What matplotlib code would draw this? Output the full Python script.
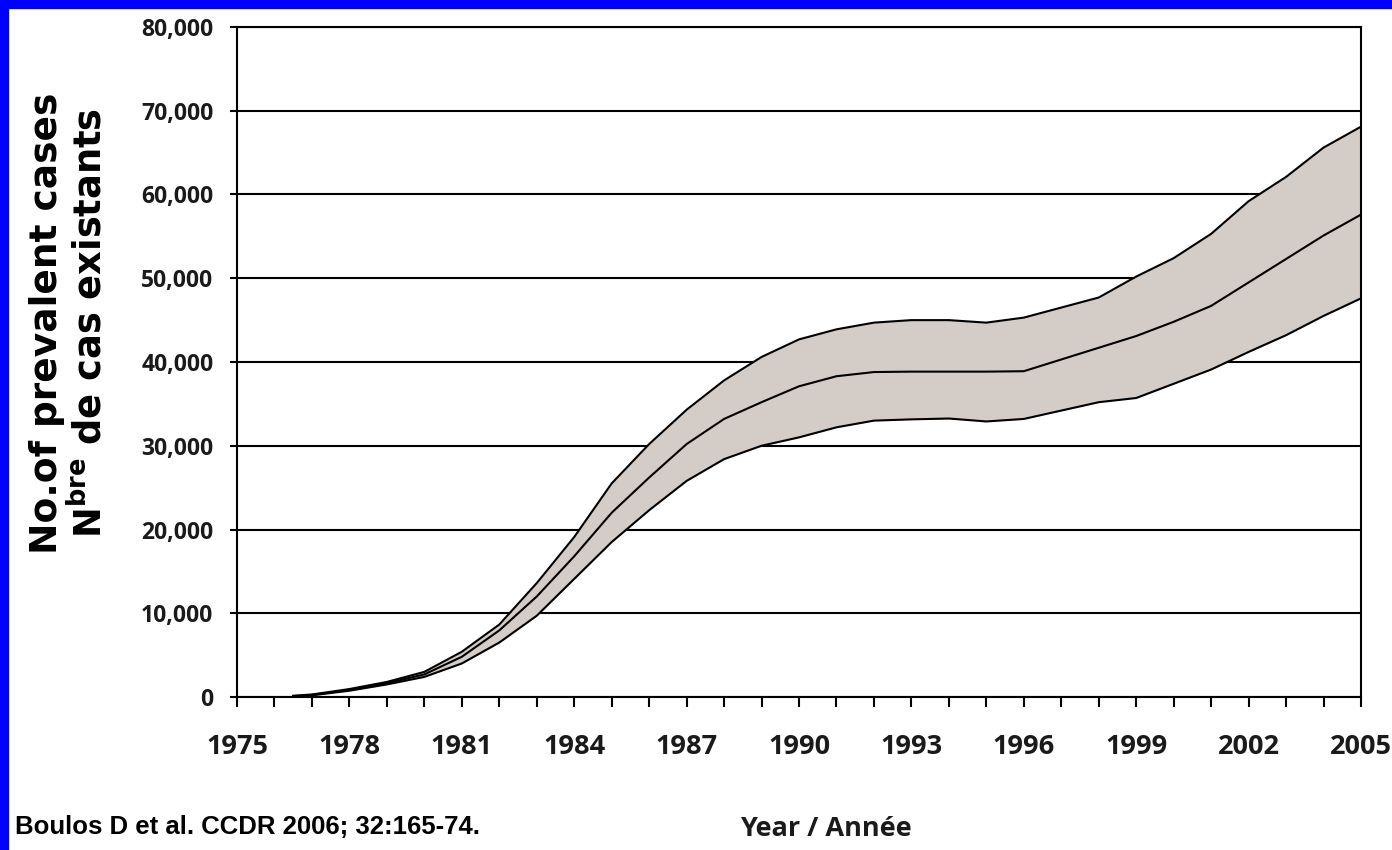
import matplotlib.pyplot as plt
from matplotlib import font_manager
from matplotlib.patches import Rectangle
from matplotlib.ticker import MultipleLocator, FuncFormatter

# estimated prevalent cases (mean and range)
years = [1976.5, 1977, 1978, 1979, 1980, 1981, 1982, 1983, 1984, 1985,
         1986, 1987, 1988, 1989, 1990, 1991, 1992, 1993, 1994, 1995,
         1996, 1997, 1998, 1999, 2000, 2001, 2002, 2003, 2004, 2005]
mean = [100, 250, 850, 1650, 2700, 4800, 7950, 12000, 16800, 22000,
        26200, 30200, 33200, 35200, 37100, 38300, 38800, 38850, 38850, 38850,
        38900, 40300, 41700, 43100, 44800, 46700, 49500, 52300, 55100, 57600]
upper = [150, 300, 950, 1800, 3000, 5400, 8650, 13600, 19100, 25500,
         30200, 34300, 37800, 40600, 42700, 43900, 44700, 45000, 45000, 44700,
         45300, 46500, 47700, 50200, 52400, 55300, 59200, 62100, 65600, 68100]
lower = [50, 200, 750, 1500, 2400, 4000, 6500, 9700, 14100, 18500,
         22300, 25800, 28400, 30000, 31000, 32200, 33000, 33150, 33250, 32900,
         33200, 34200, 35200, 35700, 37400, 39100, 41200, 43200, 45500, 47600]
year_labels = list(range(1975, 2006, 3))

W, H = 1392, 850
fig = plt.figure(figsize=(W / 100, H / 100), dpi=100)
fig.patch.set_facecolor("white")

# blue slide border on top and left
fig.patches.append(Rectangle((0, 1 - 8 / H), 1, 8 / H, transform=fig.transFigure,
                             color="#0000ff", zorder=0))
fig.patches.append(Rectangle((0, 0), 8 / W, 1, transform=fig.transFigure,
                             color="#0000ff", zorder=0))

ax = fig.add_axes([237 / W, 1 - 697 / H, (1361 - 237) / W, (697 - 27) / H])
ax.fill_between(years, lower, upper, color="#d3ccc7", lw=0)
for s in (upper, mean, lower):
    ax.plot(years, s, color="black", lw=1.5)

ax.set_xlim(1975, 2005)
ax.set_ylim(0, 80000)
ax.yaxis.set_major_locator(MultipleLocator(10000))
ax.yaxis.set_major_formatter(FuncFormatter(lambda v, p: f"{v:,.0f}"))
ax.set_xticks(year_labels)
ax.xaxis.set_minor_locator(MultipleLocator(1))
ax.grid(axis="y", color="black", lw=1.5)
ax.set_axisbelow(True)
for sp in ax.spines.values():
    sp.set_linewidth(1.5)

ax.tick_params(axis="y", length=5, width=1.5, pad=12, labelsize=16.5)
ax.tick_params(axis="x", which="both", length=7.5, width=1.5, pad=19, labelsize=19.5)
for lab in ax.get_xticklabels() + ax.get_yticklabels():
    lab.set_fontfamily("Open Sans")
    lab.set_fontweight("bold")
    lab.set_color("#1a1a1a")

# y axis title, two rotated lines
fig.text(57 / W, 1 - 323 / H, "No.of prevalent cases", rotation=90,
         family="DejaVu Sans", weight="bold", fontsize=27,
         ha="center", va="baseline", rotation_mode="anchor")
fig.text(101 / W, 1 - 323 / H, "N$^{\\mathregular{bre}}$ de cas existants", rotation=90,
         family="DejaVu Sans", weight="bold", fontsize=26.5,
         ha="center", va="baseline", rotation_mode="anchor")

fig.text(826 / W, 1 - 836 / H, "Year / Année", family="Open Sans", weight="bold",
         fontsize=19.5, ha="center", va="baseline", color="#1a1a1a")

names = {f.name for f in font_manager.fontManager.ttflist}
if "Liberation Sans Narrow" in names:
    cite_font, cite_size = "Liberation Sans Narrow", 21.5
else:
    cite_font, cite_size = "Liberation Sans", 18.5
fig.text(15 / W, 1 - 834 / H, "Boulos D et al. CCDR 2006; 32:165-74.",
         family=cite_font, weight="bold", fontsize=cite_size,
         ha="left", va="baseline")

fig.savefig("out.png", dpi=100, facecolor=fig.get_facecolor())
